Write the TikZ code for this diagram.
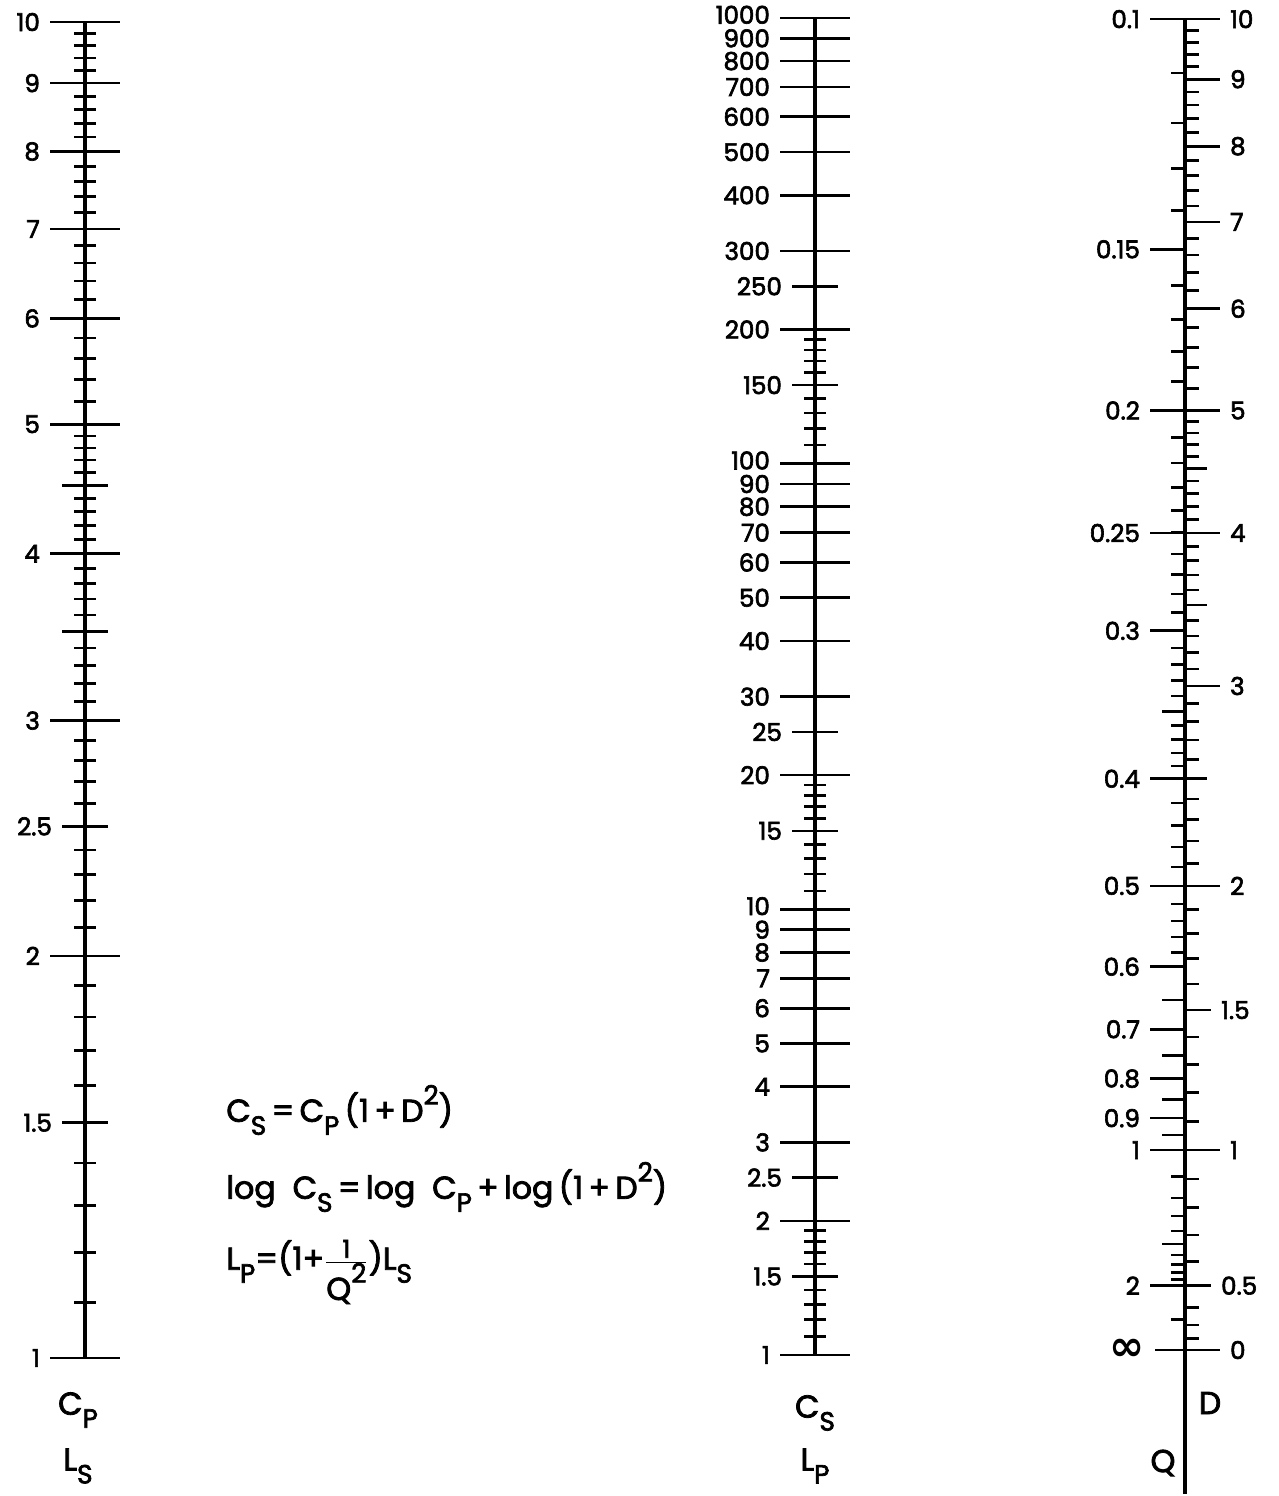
\documentclass[tikz,border=0pt]{standalone}
\usepackage{fontspec}
\setmainfont{Poppins}[RawFeature={embolden=2.5}]
\newfontfamily\symfont{DejaVu Sans}
\usetikzlibrary{positioning}

\newcommand{\lo}[1]{\raisebox{-0.75ex}{\fontsize{15}{15}\selectfont #1}}
\newcommand{\hi}[1]{\raisebox{1.0ex}{\fontsize{15}{15}\selectfont #1}}

\tikzset{
  declare function={
    ycp(\v)=1358-1336*log10(\v);
    ycs(\v)=1355-445.7*log10(\v);
    yd(\v)=1350-664*log10(1+\v*\v);
    yq(\v)=1350-664*log10(1+1/(\v*\v));
  },
  axis/.style={line width=2pt},
  tick/.style={line width=1.5pt},
  num/.style={font=\fontsize{14}{15}\selectfont, inner xsep=5pt, inner ysep=0pt},
  scalename/.style={font=\fontsize{18}{20}\selectfont, inner sep=0pt},
  formula/.style={font=\fontsize{18}{20}\selectfont, anchor=west, inner sep=0pt},
}

\begin{document}
\begin{tikzpicture}[x=0.02cm, y=-0.02cm]
    \useasboundingbox (0,0) rectangle (1278,1496);
    % C_P / L_S scale
    \begin{scope}
      \coordinate (cp-top) at (85,{ycp(10)});
      \coordinate (cp-bot) at (85,{ycp(1)});
      \draw[axis] (cp-top) -- (cp-bot);
      \foreach \v in {1.1,1.2,...,4.95} {
          \draw[tick] (74,{ycp(\v)}) -- (96,{ycp(\v)});
        }
      \foreach \v in {5.2,5.4,...,9.9} {
          \draw[tick] (74,{ycp(\v)}) -- (96,{ycp(\v)});
        }
      \foreach \v in {3.5,4.5} {
          \draw[tick] (62,{ycp(\v)}) -- (108,{ycp(\v)});
        }
      \foreach \v [count=\i] in {1.5,2.5} {
          \draw[tick] (62,{ycp(\v)}) node[num,left] (cpm\i) {\v} -- (108,{ycp(\v)});
        }
      \foreach \v [count=\i] in {1,...,10} {
          \draw[tick] (50,{ycp(\v)}) node[num,left] (cpl\i) {\v} -- (120,{ycp(\v)});
        }
      \node[scalename] (cp-name) at (78,1410) {C\lo{P}};
      \node[scalename] (ls-name) at (78,1466) {L\lo{S}};
    \end{scope}
    % formulas
    \node[formula] (f1) at (226,1110) {C\lo{S}\,=\,C\lo{P}\,(1\,+\,D\hi{2})};
    \node[formula] (f2) at (226,1187) {log\ \ C\lo{S}\,=\,log\ \ C\lo{P}\,+\,log\,(1\,+\,D\hi{2})};
    \node[formula] (f3) at (226,1272) {L\lo{P}=(1+$\frac{\mbox{\fontsize{14}{14}\selectfont 1}}{\mbox{Q\hi{2}}}$)L\lo{S}};
    % C_S / L_P scale
    \begin{scope}
      \coordinate (cs-top) at (815,{ycs(1000)});
      \coordinate (cs-bot) at (815,{ycs(1)});
      \draw[axis] (cs-top) -- (cs-bot);
      \foreach \v in {1.1,1.2,...,1.95,11,12,...,19,110,120,...,190} {
          \draw[tick] (804,{ycs(\v)}) -- (826,{ycs(\v)});
        }
      \foreach \v [count=\i] in {1.5,2.5,15,25,150,250} {
          \draw[tick] (792,{ycs(\v)}) node[num,left] (csm\i) {\v} -- (838,{ycs(\v)});
        }
      \foreach \v [count=\i] in {1,2,3,4,5,6,7,8,9,20,30,40,50,60,70,80,90,200,300,400,500,600,700,800,900} {
          \draw[tick] (780,{ycs(\v)}) node[num,left] (csl\i) {\v} -- (850,{ycs(\v)});
        }
      % crowded decade labels
      \foreach \v [count=\i] in {10,100,1000} {
          \draw[tick] (780,{ycs(\v)}) node[num,left,yshift=1.8pt] (csd\i) {\v} -- (850,{ycs(\v)});
        }
      \node[scalename] (cs-name) at (815,1413) {C\lo{S}};
      \node[scalename] (lp-name) at (815,1466) {L\lo{P}};
    \end{scope}
    % D / Q scale
    \begin{scope}
      \coordinate (dq-top) at (1185,{yd(10)});
      \coordinate (dq-bot) at (1185,1494);
      \draw[axis] (dq-top) -- (dq-bot);
      % D side
      \foreach \v in {0.2,0.3,0.4,0.6,0.7,0.8,0.9} {
          \draw[tick] (1185,{yd(\v)}) -- (1199,{yd(\v)});
        }
      \foreach \v in {1.1,1.2,...,4.95} {
          \draw[tick] (1185,{yd(\v)}) -- (1199,{yd(\v)});
        }
      \foreach \v in {5.2,5.4,...,9.9} {
          \draw[tick] (1185,{yd(\v)}) -- (1199,{yd(\v)});
        }
      \foreach \v in {2.5,3.5,4.5} {
          \draw[tick] (1185,{yd(\v)}) -- (1207,{yd(\v)});
        }
      \foreach \v [count=\i] in {0.5,1.5} {
          \draw[tick] (1185,{yd(\v)}) -- (1211,{yd(\v)}) node[num,right] (dm\i) {\v};
        }
      \foreach \v [count=\i] in {0,...,10} {
          \draw[tick] (1185,{yd(\v)}) -- (1220,{yd(\v)}) node[num,right] (dl\i) {\v};
        }
      % Q side
      \foreach \v in {0.11,0.12,...,0.395,0.42,0.44,0.46,0.48,0.52,0.54,0.56,0.58} {
          \draw[tick] (1171,{yq(\v)}) -- (1185,{yq(\v)});
        }
      \foreach \v in {1.1,1.2,...,1.95,3} {
          \draw[tick] (1171,{yq(\v)}) -- (1185,{yq(\v)});
        }
      \foreach \v in {0.35,0.65,0.75,0.85,0.95,1.5} {
          \draw[tick] (1162,{yq(\v)}) -- (1185,{yq(\v)});
        }
      \foreach \v [count=\i] in {0.1,0.15,0.2,0.25,0.3,0.4,0.5,0.6,0.7,0.8,0.9,1,2} {
          \draw[tick] (1150,{yq(\v)}) node[num,left] (ql\i) {\v} -- (1185,{yq(\v)});
        }
      \draw[tick] (1155,1350) node[num,left] (q-inf) {\symfont\bfseries\fontsize{24}{24}\selectfont ∞} -- (1185,1350);
      \node[scalename] (d-name) at (1210,1403) {D};
      \node[scalename] (q-name) at (1163,1463) {Q};
    \end{scope}
  \end{tikzpicture}
\end{document}
